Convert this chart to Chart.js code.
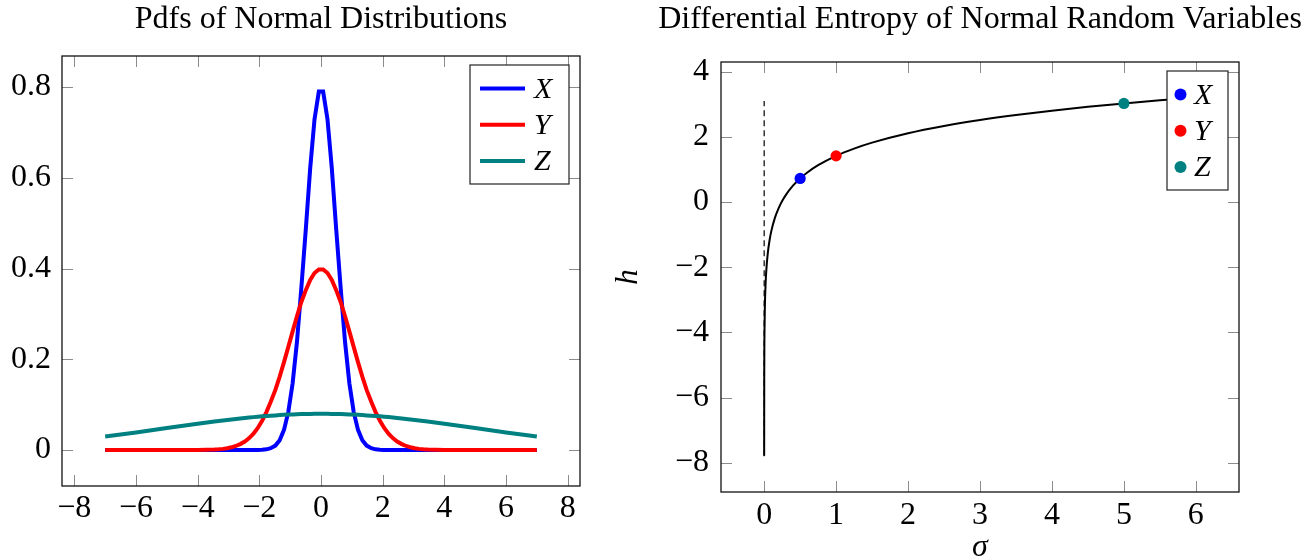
<!DOCTYPE html>
<html>
<head>
<meta charset="utf-8">
<script src="https://cdn.jsdelivr.net/npm/chart.js@4.4.1/dist/chart.umd.min.js"></script>
<style>
  html, body { margin: 0; background: #fff; overflow: hidden; }
  body { width: 1316px; height: 560px; position: relative; }
  canvas { position: absolute; top: 0; }
  #pdfs { left: 0; }
  #entropy { left: 612px; }
</style>
</head>
<body>
<canvas id="pdfs" width="642" height="560"></canvas>
<canvas id="entropy" width="704" height="560"></canvas>
<script>
// left chart: pdfs of X (sigma .5), Y (sigma 1), Z (sigma 5)
const pdfXs = [-7, -6, -5, -4,
  -3.46, -3.32, -3.18, -3.04, -2.90, -2.76, -2.62, -2.47, -2.33, -2.19, -2.05, -1.91, -1.77,
  -1.63, -1.48, -1.34, -1.20, -1.06, -0.92, -0.78, -0.64, -0.49, -0.35, -0.21, -0.07,
  0.07, 0.21, 0.35, 0.49, 0.64, 0.78, 0.92, 1.06, 1.20, 1.34, 1.48, 1.63,
  1.77, 1.91, 2.05, 2.19, 2.33, 2.47, 2.62, 2.76, 2.90, 3.04, 3.18, 3.32, 3.46,
  4, 5, 6, 7];
const pdfX = [0, 0, 0, 0,
  0, 0, 0, 0, 0, 0, 0, 0, 0, 0.0001, 0.0002, 0.0005, 0.0015,
  0.0040, 0.0097, 0.0216, 0.0444, 0.0841, 0.1472, 0.2379, 0.3550, 0.4890, 0.6215, 0.7292, 0.7899,
  0.7899, 0.7292, 0.6215, 0.4890, 0.3550, 0.2379, 0.1472, 0.0841, 0.0444, 0.0216, 0.0097, 0.0040,
  0.0015, 0.0005, 0.0002, 0.0001, 0, 0, 0, 0, 0, 0, 0, 0, 0,
  0, 0, 0, 0];
const pdfY = [0, 0, 0, 0.0001,
  0.0010, 0.0016, 0.0025, 0.0039, 0.0060, 0.0089, 0.0130, 0.0187, 0.0262, 0.0361, 0.0487, 0.0645, 0.0836,
  0.1063, 0.1325, 0.1618, 0.1937, 0.2273, 0.2615, 0.2948, 0.3258, 0.3529, 0.3748, 0.3901, 0.3980,
  0.3980, 0.3901, 0.3748, 0.3529, 0.3258, 0.2948, 0.2615, 0.2273, 0.1937, 0.1618, 0.1325, 0.1063,
  0.0836, 0.0645, 0.0487, 0.0361, 0.0262, 0.0187, 0.0130, 0.0089, 0.0060, 0.0039, 0.0025, 0.0016, 0.0010,
  0.0001, 0, 0, 0];
const pdfZ = [0.0299, 0.0388, 0.0484, 0.0579,
  0.0628, 0.0640, 0.0652, 0.0663, 0.0674, 0.0685, 0.0696, 0.0706, 0.0716, 0.0725, 0.0733, 0.0742, 0.0750,
  0.0757, 0.0763, 0.0770, 0.0775, 0.0780, 0.0785, 0.0788, 0.0791, 0.0794, 0.0796, 0.0797, 0.0798,
  0.0798, 0.0797, 0.0796, 0.0794, 0.0791, 0.0788, 0.0785, 0.0780, 0.0775, 0.0770, 0.0763, 0.0757,
  0.0750, 0.0742, 0.0733, 0.0725, 0.0716, 0.0706, 0.0696, 0.0685, 0.0674, 0.0663, 0.0652, 0.0640, 0.0628,
  0.0579, 0.0484, 0.0388, 0.0299];
const pdfXTicks = [-8, -6, -4, -2, 0, 2, 4, 6, 8];
const pdfYTicks = [0, 0.2, 0.4, 0.6, 0.8];

// right chart: entropy h against sigma
const sigmas = [0.0001, 0.001, 0.003, 0.005, 0.01, 0.02, 0.03, 0.05, 0.075, 0.1, 0.15, 0.2, 0.25, 0.3,
  0.4, 0.5, 0.6, 0.75, 1, 1.25, 1.5, 2, 2.5, 3, 3.5, 4, 4.5, 5, 5.5, 6];
const entropy = [-7.791, -5.489, -4.390, -3.879, -3.186, -2.493, -2.088, -1.577, -1.171, -0.884, -0.478, -0.191, 0.033, 0.215,
  0.503, 0.726, 0.908, 1.131, 1.419, 1.642, 1.824, 2.112, 2.335, 2.518, 2.672, 2.805, 2.923, 3.028, 3.124, 3.211];
const guideSigma = [0, 0];
const guideH = [-7.8, 3.1];
const markNames = ["X", "Y", "Z"];
const markSigma = [0.5, 1, 5];
const markH = [0.726, 1.419, 3.028];
const hXTicks = [0, 1, 2, 3, 4, 5, 6];
const hYTicks = [-8, -6, -4, -2, 0, 2, 4];

const COLORS = ["#0000ff", "#ff0000", "#008080"];
const SERIF = "'Liberation Serif', 'Times New Roman', serif";

Chart.defaults.font.family = SERIF;
Chart.defaults.color = "#000";

const pts = (xs, ys) => xs.map((x, i) => ({ x: x, y: ys[i] }));
const minus = v => String(v).replace("-", "\u2212");

// inward tick marks on all four sides, then the frame
const frameTicks = {
	id: "frameTicks",
	beforeDatasetsDraw(chart) {
		const { ctx, chartArea: a, scales } = chart;
		const len = 11;
		ctx.save();
		ctx.strokeStyle = "#8c8c8c";
		ctx.lineWidth = 1;
		ctx.beginPath();
		scales.x.ticks.forEach(t => {
			const px = Math.round(scales.x.getPixelForValue(t.value)) + 0.5;
			ctx.moveTo(px, a.bottom); ctx.lineTo(px, a.bottom - len);
			ctx.moveTo(px, a.top); ctx.lineTo(px, a.top + len);
		});
		scales.y.ticks.forEach(t => {
			const py = Math.round(scales.y.getPixelForValue(t.value)) + 0.5;
			ctx.moveTo(a.left, py); ctx.lineTo(a.left + len, py);
			ctx.moveTo(a.right, py); ctx.lineTo(a.right - len, py);
		});
		ctx.stroke();
		ctx.restore();
	},
	afterDatasetsDraw(chart) {
		const { ctx, chartArea: a } = chart;
		ctx.save();
		ctx.strokeStyle = "#111";
		ctx.lineWidth = 1.3;
		ctx.strokeRect(a.left, a.top, a.right - a.left, a.bottom - a.top);
		ctx.restore();
	},
};

// title centred over the plot area (like pgfplots), not over the canvas
const areaTitle = {
	id: "areaTitle",
	afterDraw(chart, args, opts) {
		const { ctx, chartArea: a } = chart;
		ctx.save();
		ctx.fillStyle = "#000";
		ctx.font = "32px " + SERIF;
		ctx.textAlign = "center";
		ctx.textBaseline = "alphabetic";
		ctx.fillText(opts.text, (a.left + a.right) / 2, 28);
		ctx.restore();
	},
};

// boxed legend in the upper right corner of the plot area
const boxLegend = {
	id: "boxLegend",
	afterDatasetsDraw(chart, args, opts) {
		const { ctx, chartArea: a } = chart;
		const items = chart.data.datasets.filter(d => d.inLegend);
		const x0 = a.right - 11 - opts.width;
		const y0 = a.top + 9;
		ctx.save();
		ctx.fillStyle = "#fff";
		ctx.fillRect(x0, y0, opts.width, 119);
		ctx.strokeStyle = "#222";
		ctx.lineWidth = 1.2;
		ctx.strokeRect(x0, y0, opts.width, 119);
		items.forEach((d, i) => {
			const y = y0 + 23.5 + i * 36.2;
			if (opts.kind === "line") {
				ctx.strokeStyle = d.borderColor;
				ctx.lineWidth = 4;
				ctx.beginPath();
				ctx.moveTo(x0 + 10, y);
				ctx.lineTo(x0 + 55, y);
				ctx.stroke();
			} else {
				ctx.fillStyle = d.backgroundColor;
				ctx.beginPath();
				ctx.arc(x0 + 13.5, y, 6, 0, Math.PI * 2);
				ctx.fill();
			}
			ctx.fillStyle = "#000";
			ctx.font = "italic 30px " + SERIF;
			ctx.textBaseline = "alphabetic";
			ctx.fillText(d.label, x0 + opts.textX, y + 9.5);
		});
		ctx.restore();
	},
};

function axis(range, ticks, pad, extra) {
	return Object.assign({
		type: "linear",
		min: range[0],
		max: range[1],
		afterBuildTicks: s => { s.ticks = ticks.map(v => ({ value: v })); },
		grid: { display: false, drawTicks: false },
		border: { display: false },
		ticks: {
			autoSkip: false,
			maxRotation: 0,
			padding: pad,
			font: { size: 32, lineHeight: 1 },
			callback: v => minus(v),
		},
	}, extra);
}

const pdfChart = new Chart(document.getElementById("pdfs"), {
	type: "line",
	data: {
		datasets: [pdfX, pdfY, pdfZ].map((ys, i) => ({
			label: markNames[i],
			inLegend: true,
			data: pts(pdfXs, ys),
			borderColor: COLORS[i],
			backgroundColor: COLORS[i],
			borderWidth: 4,
			pointRadius: 0,
			tension: 0,
			order: 3 - i,
		})),
	},
	options: {
		responsive: false,
		animation: false,
		layout: { padding: { left: 0, right: 62, top: 56, bottom: 0 } },
		scales: {
			x: axis([-8.4, 8.4], pdfXTicks, 7, { afterFit: s => { s.height = 74; } }),
			y: axis([-0.0793, 0.8683], pdfYTicks, 11, { afterFit: s => { s.width = 62; } }),
		},
		plugins: {
			legend: { display: false },
			tooltip: { enabled: false },
			areaTitle: { text: "Pdfs of Normal Distributions" },
			boxLegend: { kind: "line", width: 99, textX: 64 },
		},
	},
	plugins: [frameTicks, boxLegend, areaTitle],
});

const markSets = markNames.map((name, i) => ({
	label: name,
	inLegend: true,
	data: [{ x: markSigma[i], y: markH[i] }],
	showLine: false,
	pointRadius: 5.6,
	pointBorderWidth: 0,
	borderColor: COLORS[i],
	backgroundColor: COLORS[i],
	order: 0,
}));

const hChart = new Chart(document.getElementById("entropy"), {
	type: "line",
	data: {
		datasets: markSets.concat([
			{
				label: "h",
				data: pts(sigmas, entropy),
				borderColor: "#000",
				borderWidth: 2,
				pointRadius: 0,
				cubicInterpolationMode: "monotone",
				order: 1,
			},
			{
				label: "guide",
				data: pts(guideSigma, guideH),
				borderColor: "#000",
				borderWidth: 1.2,
				borderDash: [6, 4],
				pointRadius: 0,
				order: 2,
			},
		]),
	},
	options: {
		responsive: false,
		animation: false,
		layout: { padding: { left: 0, right: 77, top: 62, bottom: 0 } },
		scales: {
			x: axis([-0.6, 6.6], hXTicks, 8, {
				afterFit: s => { s.height = 68; },
				title: { display: true, text: "\u03c3", font: { size: 32, style: "italic", lineHeight: 0.75 }, padding: 0 },
			}),
			y: axis([-8.9, 4.3], hYTicks, 12, {
				afterFit: s => { s.width = 109; },
				title: { display: true, text: "h", font: { size: 31, style: "italic", lineHeight: 1 }, padding: { top: 1, bottom: 0 } },
			}),
		},
		plugins: {
			legend: { display: false },
			tooltip: { enabled: false },
			areaTitle: { text: "Differential Entropy of Normal Random Variables" },
			boxLegend: { kind: "point", width: 61, textX: 27 },
		},
	},
	plugins: [frameTicks, boxLegend, areaTitle],
});
</script>
</body>
</html>
